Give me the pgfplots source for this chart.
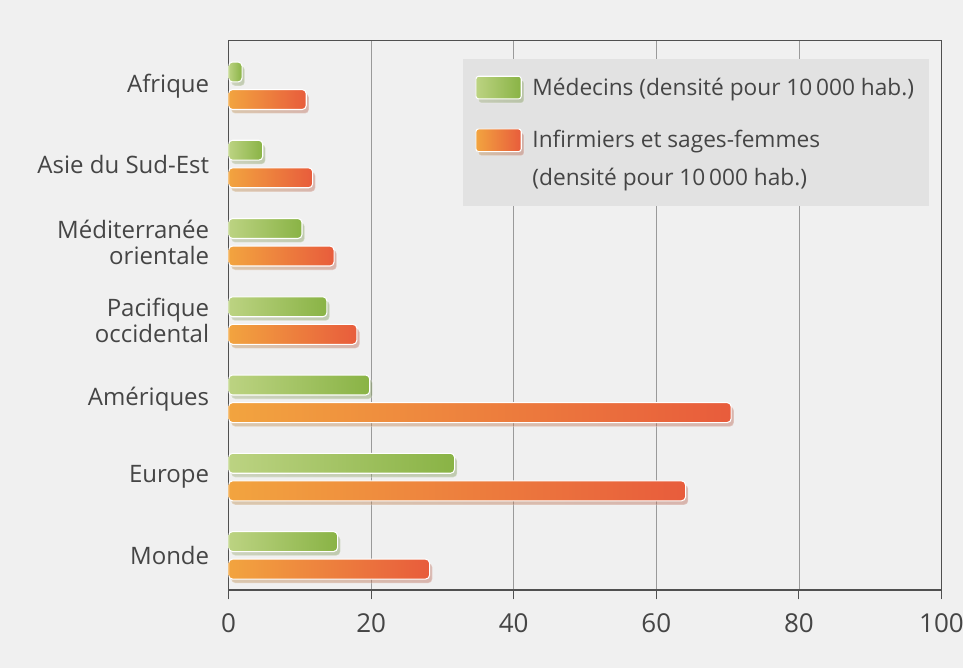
\documentclass[border=0pt]{standalone}
\usepackage{pgfplots}
\pgfplotsset{compat=1.18}
\usepackage{fontspec}
\setmainfont{Open Sans}
\usetikzlibrary{shadows}
\definecolor{txt}{HTML}{454545}
\definecolor{bg}{HTML}{F0F0F0}
\definecolor{grn1}{HTML}{BCD382}
\definecolor{grn2}{HTML}{89B345}
\definecolor{org1}{HTML}{F2A43F}
\definecolor{org2}{HTML}{E85C3C}
\definecolor{legbg}{HTML}{E2E2E2}
\definecolor{axc}{HTML}{505050}
\definecolor{gridc}{HTML}{9A9A9A}
\pgfplotsset{
  gbar/.style={xbar, bar shift=0.176, draw=white, line width=0.8pt, rounded corners=3pt,
    left color=grn1, right color=grn2,
    drop shadow={shadow xshift=2pt, shadow yshift=-3pt, opacity=0.25},
    legend image code/.code={\fill[rounded corners=2pt, left color=grn1, right color=grn2, draw=white] (0pt,-8.5pt) rectangle (34pt,8.5pt);}},
  obar/.style={xbar, bar shift=-0.176, draw=white, line width=0.8pt, rounded corners=3pt,
    left color=org1, right color=org2,
    drop shadow={shadow xshift=2pt, shadow yshift=-3pt, opacity=0.25},
    legend image code/.code={\fill[rounded corners=2pt, left color=org1, right color=org2, draw=white] (0pt,5.5pt) rectangle (34pt,22.5pt);}},
}
\begin{document}
\begin{tikzpicture}
\fill[bg] (0,0) rectangle (722.25pt,501pt);
\useasboundingbox (0,0) rectangle (722.25pt,501pt);
\begin{axis}[
  at={(171.4pt,58.5pt)}, anchor=south west,
  scale only axis, width=534.75pt, height=412pt,
  xbar, bar width=0.255,
  xmin=0, xmax=100, ymin=-0.443, ymax=6.576,
  xtick={0,20,40,60,80,100},
  ytick={0,1,2,3,4,5,6},
  yticklabels={Monde,Europe,Amériques,{Pacifique\\occidental},{Méditerranée\\orientale},Asie du Sud-Est,Afrique},
  yticklabel style={align=right, font=\fontsize{18}{19.5}\selectfont, text=txt, xshift=-4pt},
  xticklabel style={font=\fontsize{19.5}{20}\selectfont, text=txt, yshift=-7pt},
  /pgf/number format/assume math mode=true,
  ymajorgrids=false, xmajorgrids=true,
  grid style={gridc, line width=0.5pt},
  axis line style={axc, line width=1pt},
  tick style={axc, line width=0.8pt},
  xtick align=outside, major tick length=7pt,
  ytick style={draw=none},
  xtick pos=bottom,
  legend style={at={(0.329,0.9667)}, anchor=north west, fill=legbg, draw=none,
     font=\fontsize{17}{28}\selectfont, text=txt,
     cells={anchor=west, align=left}, row sep=21pt, column sep=6pt,
     inner xsep=9pt, inner ysep=12pt},
  legend cell align=left,
]
% Medecins (density per 10 000 inhabitants)
\addplot[gbar] coordinates {(15.3,0)};
\addlegendentry{Médecins (densité pour 10\,000 hab.)}
% Infirmiers et sages-femmes
\addplot[obar] coordinates {(28.2,0)};
\addlegendentry{Infirmiers et sages-femmes\\(densité pour 10\,000 hab.)}
\addplot[gbar, forget plot] coordinates {(31.7,1)};
\addplot[gbar, forget plot] coordinates {(19.8,2)};
\addplot[gbar, forget plot] coordinates {(13.8,3)};
\addplot[gbar, forget plot] coordinates {(10.3,4)};
\addplot[gbar, forget plot] coordinates {(4.8,5)};
\addplot[gbar, forget plot] coordinates {(1.9,6)};
\addplot[obar, forget plot] coordinates {(64.1,1)};
\addplot[obar, forget plot] coordinates {(70.5,2)};
\addplot[obar, forget plot] coordinates {(18.0,3)};
\addplot[obar, forget plot] coordinates {(14.8,4)};
\addplot[obar, forget plot] coordinates {(11.8,5)};
\addplot[obar, forget plot] coordinates {(10.9,6)};
\end{axis}
\end{tikzpicture}
\end{document}
